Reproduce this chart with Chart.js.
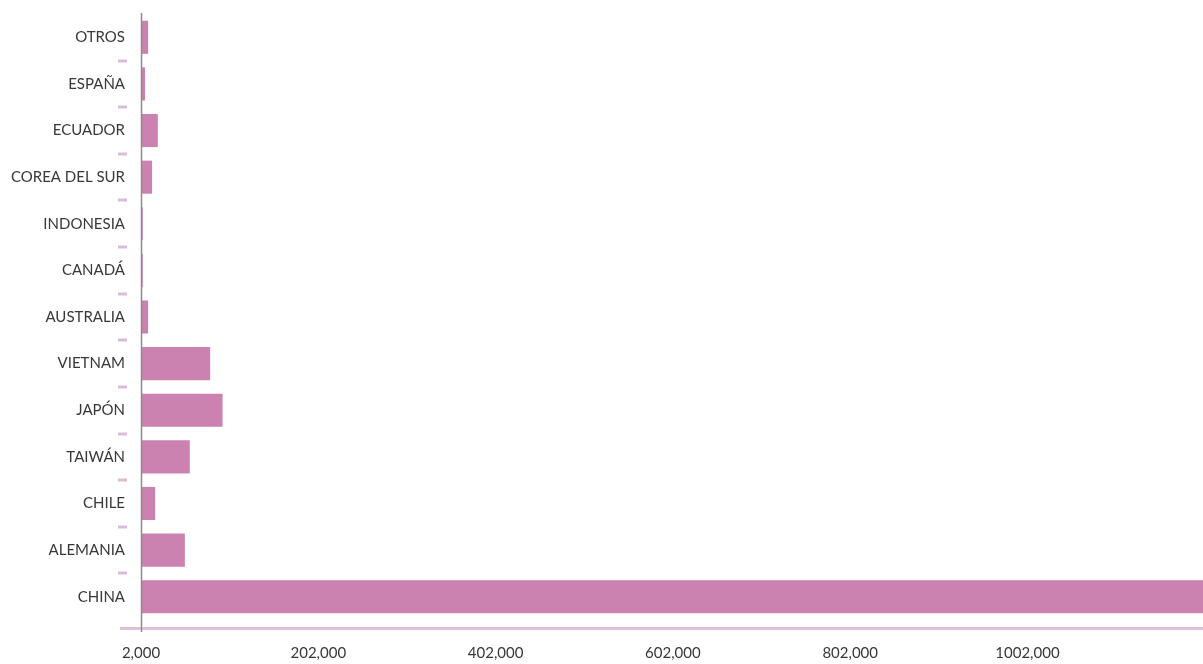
<!DOCTYPE html>
<html><head><meta charset="utf-8">
<script src="https://cdn.jsdelivr.net/npm/chart.js@4.4.1/dist/chart.umd.min.js"></script>
<style>html,body{margin:0;padding:0;background:#fff}</style>
</head><body>
<canvas id="c" width="1203" height="664"></canvas>
<script>
const categories = ['OTROS','ESPAÑA','ECUADOR','COREA DEL SUR','INDONESIA','CANADÁ','AUSTRALIA','VIETNAM','JAPÓN','TAIWÁN','CHILE','ALEMANIA','CHINA'];
const values = [10000, 6500, 21000, 14500, 4000, 4000, 10000, 80000, 94000, 57000, 18000, 51500, 1250000];
const tickValues = [2000, 202000, 402000, 602000, 802000, 1002000];
const tickLabels = ['2,000', '202,000', '402,000', '602,000', '802,000', '1002,000'];
const axisMin = 2000, axisMax = 1200000;

const FONT = 'Lato';
const decor = {
  id: 'decor',
  afterDatasetsDraw(chart) {
    const {ctx, chartArea: a, scales: {x, y}} = chart;
    ctx.save();
    // category separator dashes
    ctx.strokeStyle = '#d9bcd9';
    ctx.lineWidth = 3;
    for (let i = 0; i < categories.length - 1; i++) {
      const py = Math.round((y.getPixelForValue(i) + y.getPixelForValue(i + 1)) / 2);
      ctx.beginPath();
      ctx.moveTo(a.left - 23, py);
      ctx.lineTo(a.left - 14, py);
      ctx.stroke();
    }
    // bottom axis line
    ctx.strokeStyle = '#dcc3dc';
    ctx.lineWidth = 3;
    ctx.beginPath();
    ctx.moveTo(a.left - 21, a.bottom + 8.5);
    ctx.lineTo(a.right, a.bottom + 8.5);
    ctx.stroke();
    // zero line
    const x0 = Math.round(x.getPixelForValue(axisMin)) + 0.5;
    ctx.strokeStyle = '#8c8c8c';
    ctx.lineWidth = 1.5;
    ctx.beginPath();
    ctx.moveTo(x0, a.top - 1);
    ctx.lineTo(x0, a.bottom + 12);
    ctx.stroke();
    ctx.restore();
  }
};

new Chart(document.getElementById('c'), {
  type: 'bar',
  data: {
    labels: categories,
    datasets: [{
      data: values,
      backgroundColor: '#cb82b0',
      borderWidth: 0,
      barPercentage: 0.71,
      categoryPercentage: 1
    }]
  },
  options: {
    indexAxis: 'y',
    responsive: false,
    animation: false,
    devicePixelRatio: 1,
    layout: {padding: {top: 14, right: 0, left: 0, bottom: 0}},
    plugins: {legend: {display: false}, tooltip: {enabled: false}},
    scales: {
      x: {
        min: axisMin, max: axisMax,
        grid: {display: false, drawTicks: false},
        border: {display: false},
        afterBuildTicks: s => { s.ticks = tickValues.map(v => ({value: v})); },
        afterFit: s => { s.height = 44; s.paddingLeft = 0; s.paddingRight = 0; },
        ticks: {
          color: '#383838',
          font: {family: FONT, size: 15},
          padding: 24,
          maxRotation: 0,
          autoSkip: false,
          callback: (v, i) => tickLabels[i]
        }
      },
      y: {
        grid: {display: false, drawTicks: false},
        border: {display: false},
        afterFit: s => { s.width = 141; s.paddingTop = 0; s.paddingBottom = 0; },
        ticks: {
          color: '#383838',
          font: {family: FONT, size: 15},
          padding: 16,
          autoSkip: false
        }
      }
    }
  },
  plugins: [decor]
});
</script>
</body></html>
